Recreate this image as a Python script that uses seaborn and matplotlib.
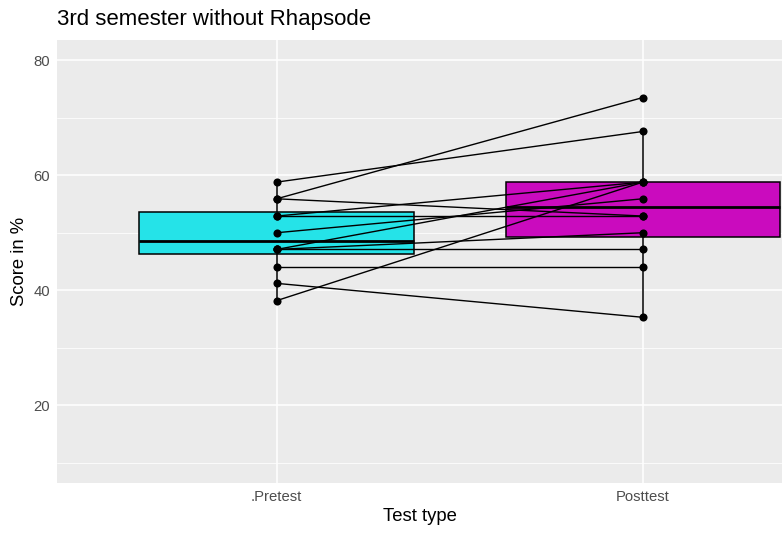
import matplotlib
matplotlib.use('Agg')
import matplotlib.pyplot as plt
from matplotlib.ticker import FixedLocator
import pandas as pd
import seaborn as sns

# Data (scores in %, one pair per student)
tests = ['.Pretest', 'Posttest']
students = list(range(1, 13))
pretest = [58.8, 55.9, 55.9, 52.9, 52.9, 50.0, 47.1, 47.1, 47.1, 44.1, 41.2, 38.2]
posttest = [67.6, 73.5, 52.9, 52.9, 58.8, 55.9, 58.8, 50.0, 47.1, 44.1, 35.3, 58.8]
box_colors = ['#25E3E8', '#CA0BBE']

df = pd.DataFrame({
    'student': students * 2,
    'test': [tests[0]] * len(pretest) + [tests[1]] * len(posttest),
    'score': pretest + posttest,
})
df['pos'] = df['test'].map({t: i for i, t in enumerate(tests)})

sns.set_style('darkgrid', {'axes.facecolor': '#EBEBEB', 'grid.color': 'white'})
plt.rcParams['font.family'] = ['Liberation Sans', 'DejaVu Sans']

fig = plt.figure(figsize=(7.82, 5.37), dpi=100)
ax = fig.add_axes([57 / 782, 1 - 483 / 537, 1 - 57 / 782, (483 - 40) / 537])

sns.boxplot(data=df, x='test', y='score', hue='test', order=tests,
            palette=dict(zip(tests, box_colors)), saturation=1, legend=False,
            width=0.75, showcaps=False, showfliers=False, whis=1.5,
            linecolor='black', linewidth=1.1,
            boxprops={'zorder': 2}, medianprops={'linewidth': 2.0, 'color': 'black'},
            whiskerprops={'linewidth': 1.1}, ax=ax)

sns.lineplot(data=df, x='pos', y='score', units='student', estimator=None,
             color='black', linewidth=1.0, ax=ax, zorder=3)
sns.scatterplot(data=df, x='pos', y='score', color='black', s=34,
                edgecolor='black', linewidth=0, ax=ax, zorder=4)

ax.set_xlim(-0.6, 1.38)
ax.set_ylim(6.5, 83.5)
ax.set_xticks([0, 1])
ax.set_xticklabels(tests)
ax.set_yticks([20, 40, 60, 80])
ax.yaxis.set_minor_locator(FixedLocator([10, 30, 50, 70]))
ax.grid(which='major', color='white', linewidth=1.1)
ax.grid(which='minor', axis='y', color='white', linewidth=0.55)
ax.set_axisbelow(True)
for s in ax.spines.values():
    s.set_visible(False)

ax.tick_params(axis='both', which='major', length=2.8, width=0.8, color='#333333',
               labelcolor='#4D4D4D', labelsize=10.7, pad=2)
ax.tick_params(axis='both', which='minor', length=0)

ax.set_xlabel('Test type', fontsize=13.3, color='black', labelpad=3)
ax.set_ylabel('Score in %', fontsize=13.3, color='black', labelpad=4)
fig.text(57 / 782, 1 - 20 / 537, '3rd semester without Rhapsode',
         fontsize=16, color='black', ha='left', va='center')

fig.savefig('out.png', dpi=100)
